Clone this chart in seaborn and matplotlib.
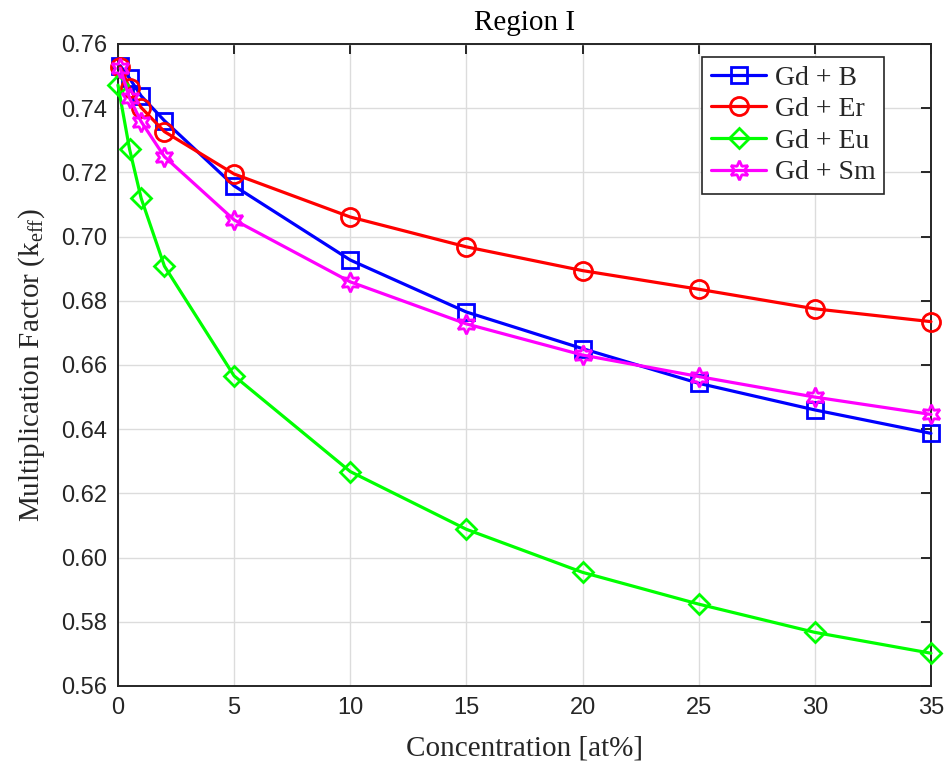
import matplotlib
matplotlib.use("Agg")
import matplotlib.pyplot as plt
import seaborn as sns
import pandas as pd

# ---- data ----
conc = [0.1, 0.5, 1, 2, 5, 10, 15, 20, 25, 30, 35]
conc_eu = [0.0, 0.5, 1, 2, 5, 10, 15, 20, 25, 30, 35]
gd_b = [0.7532, 0.7493, 0.7438, 0.7361, 0.7158, 0.6927, 0.6765, 0.6651, 0.6543, 0.6460, 0.6387]
gd_er = [0.7529, 0.7462, 0.7402, 0.7327, 0.7195, 0.7061, 0.6968, 0.6894, 0.6836, 0.6775, 0.6735]
gd_eu = [0.7472, 0.7272, 0.7119, 0.6908, 0.6566, 0.6268, 0.6088, 0.5954, 0.5855, 0.5767, 0.5702]
gd_sm = [0.7524, 0.7431, 0.7358, 0.7249, 0.7052, 0.6859, 0.6728, 0.6631, 0.6564, 0.6500, 0.6446]
labels = ["Gd + B", "Gd + Er", "Gd + Eu", "Gd + Sm"]
xticks = [0, 5, 10, 15, 20, 25, 30, 35]
yticks = [0.56, 0.58, 0.60, 0.62, 0.64, 0.66, 0.68, 0.70, 0.72, 0.74, 0.76]

sns.set_style("white")
plt.rcParams["font.family"] = ["Liberation Sans", "DejaVu Sans"]
plt.rcParams["mathtext.fontset"] = "custom"
plt.rcParams["mathtext.rm"] = "Liberation Serif"
plt.rcParams["mathtext.it"] = "Liberation Serif:italic"

series = [
    (conc, gd_b, "#0000ff", "s", 11.5),
    (conc, gd_er, "#ff0000", "o", 13),
    (conc_eu, gd_eu, "#00ff00", "D", 10.5),
    (conc, gd_sm, "#ff00ff", (6, 1, 0), 14),
]

fig = plt.figure(figsize=(9.46, 7.65), dpi=100)
ax = fig.add_axes([0.1247, 0.1033, 0.8594, 0.8392])

for (xs, ys, col, mk, ms), lab in zip(series, labels):
    df = pd.DataFrame({"x": xs, "y": ys})
    sns.lineplot(data=df, x="x", y="y", ax=ax, color=col, marker=mk,
                 markersize=ms, markerfacecolor="none", markeredgecolor=col,
                 markeredgewidth=2.0, linewidth=2.3, label=lab, clip_on=False,
                 zorder=3)

ax.set_xlim(0, 35)
ax.set_ylim(0.56, 0.76)
ax.set_xticks(xticks)
ax.set_yticks(yticks)
ax.set_yticklabels([f"{v:.2f}" for v in yticks])
ax.grid(True, color="#dcdcdc", linewidth=1.0)
ax.set_axisbelow(True)

for s in ax.spines.values():
    s.set_visible(True)
    s.set_color("#262626")
    s.set_linewidth(1.4)
ax.tick_params(direction="in", length=7, width=1.4, top=True, right=True,
               labelsize=17, colors="#262626", pad=8)

serif = ["Liberation Serif", "DejaVu Serif"]
ax.set_xlabel("Concentration [at%]", family=serif, fontsize=21, color="#262626", labelpad=12)
ax.set_ylabel("Multiplication Factor (k$_{\\mathrm{eff}}$)", family=serif, fontsize=21,
              color="#262626", labelpad=10)
ax.set_title("Region I", family=serif, fontsize=21, color="black", pad=10)

leg = ax.legend(loc="upper right", bbox_to_anchor=(0.942, 0.980),
                prop={"family": serif, "size": 20},
                frameon=True, fancybox=False, edgecolor="#262626",
                handlelength=2.0, handletextpad=0.3, borderpad=0.3,
                labelspacing=0.22, borderaxespad=0.0)
leg.get_frame().set_linewidth(1.2)
leg.get_frame().set_alpha(1)

fig.savefig("out.png", dpi=100)
